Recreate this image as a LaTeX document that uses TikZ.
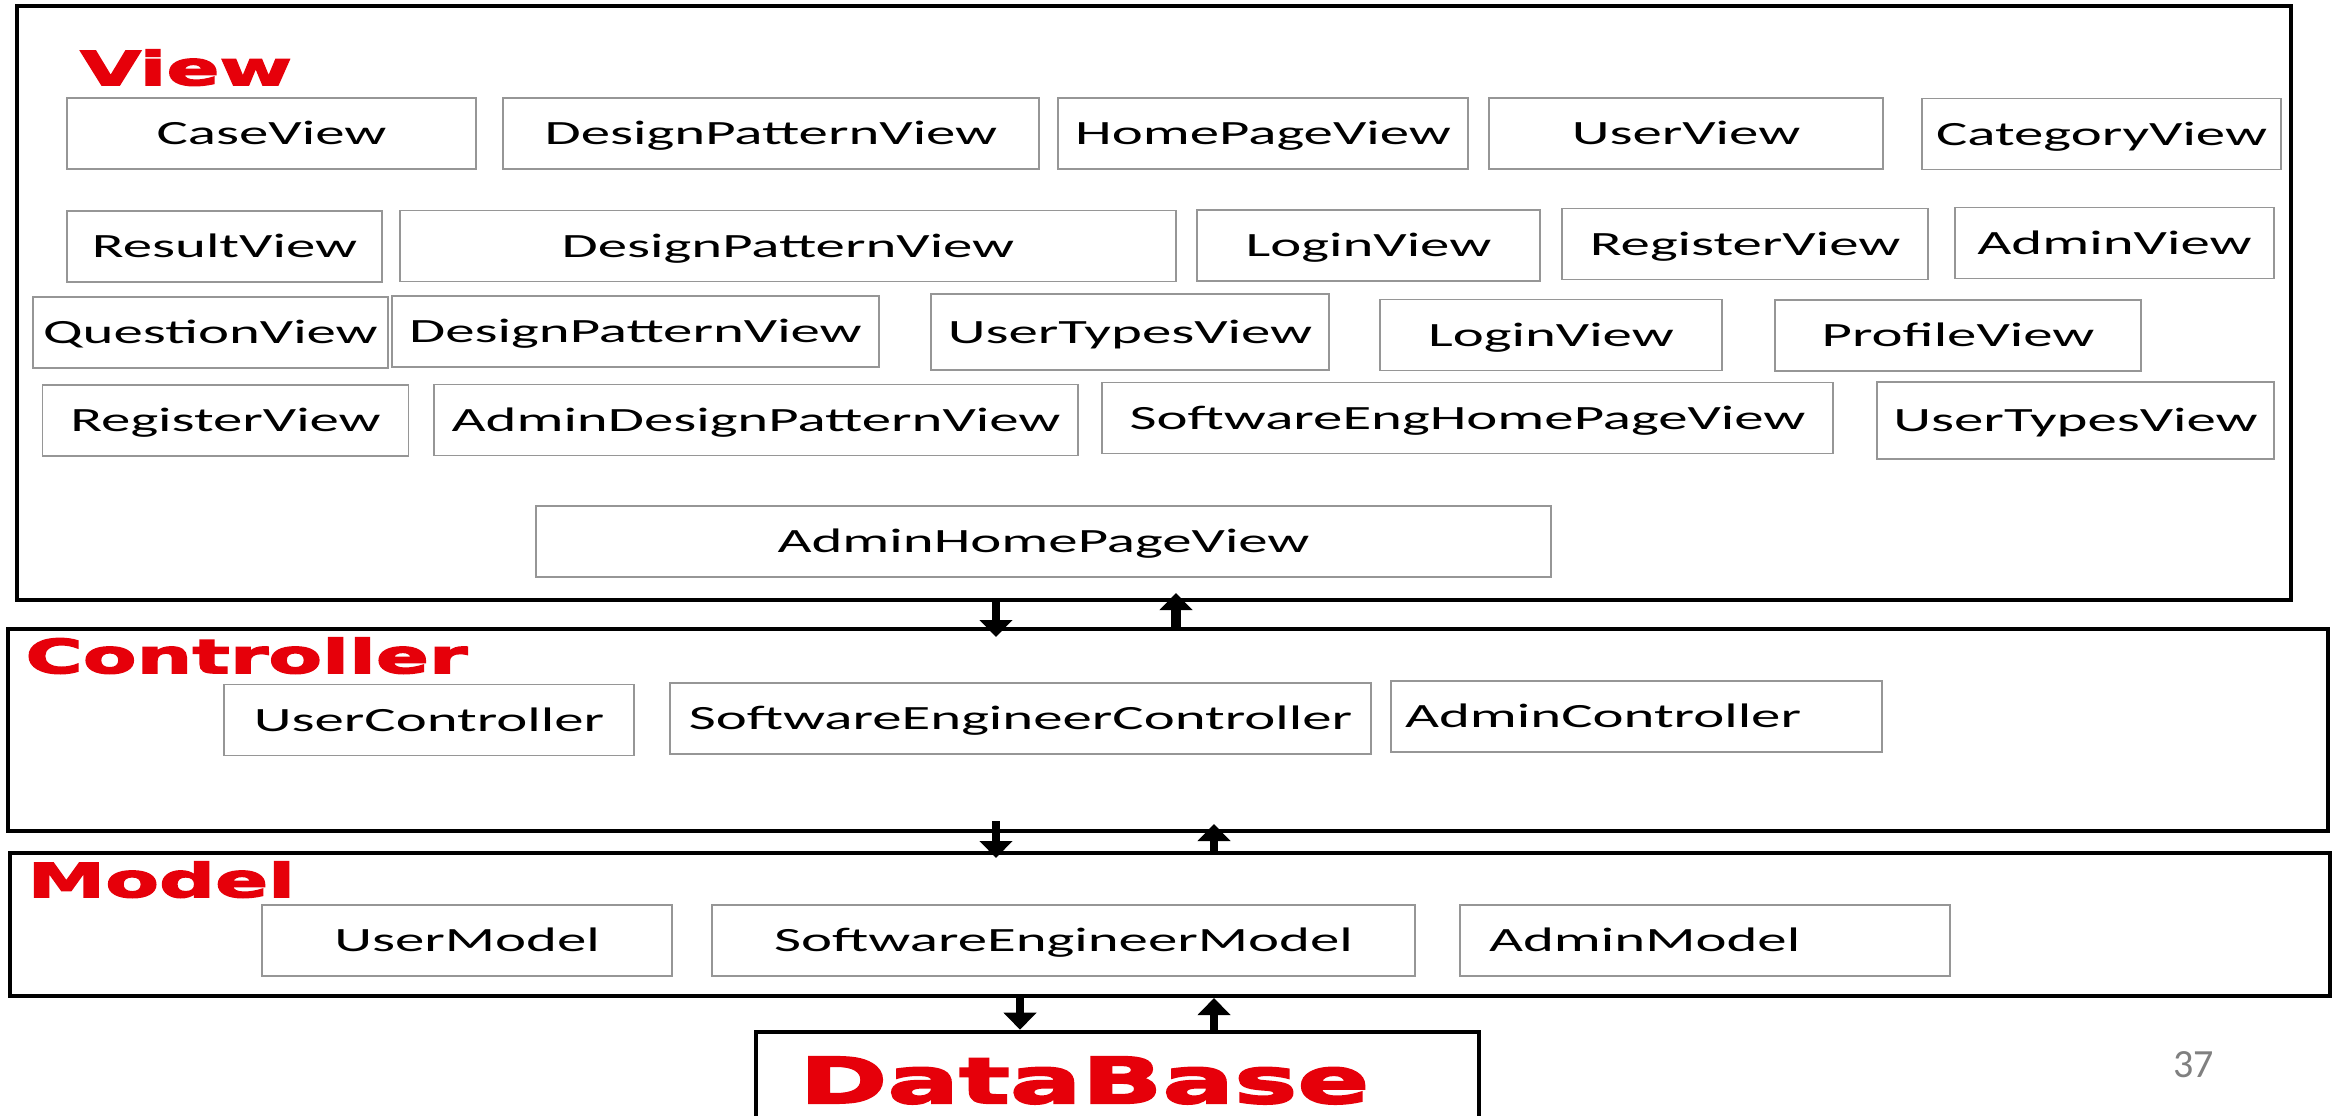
\documentclass[tikz,border=0pt]{standalone}
\usepackage{fontspec}
\usepackage{tikz}
\usetikzlibrary{arrows.meta, positioning}

\newfontfamily\boxfont[FakeStretch=1.73]{Carlito}
\newfontfamily\layerfont[FakeStretch=1.68,BoldFeatures={FakeBold=3.5}]{DejaVu Sans}
\newfontfamily\pagefont{Carlito}
\definecolor{layerred}{RGB}{230,0,10}
\definecolor{boxgray}{RGB}{150,150,150}

\begin{document}
\begin{tikzpicture}[
    x=0.5pt, y=-0.5pt,
    layer/.style={draw, line width=2pt, inner sep=0pt},
    ui/.style={draw=boxgray, line width=0.9pt, minimum height=35.5pt, inner sep=0pt,
        text height=11pt, text depth=0pt, font=\boxfont\fontsize{17}{20}\selectfont},
    layerlbl/.style={text=layerred, inner sep=0pt, anchor=base west,
        font=\layerfont\bfseries\fontsize{23.3}{28}\selectfont},
    flow/.style={line width=4pt, -{Triangle[width=16pt,length=8.5pt]}}
]

    \path[use as bounding box, fill=white] (0,0) rectangle (2343,1115);
    \clip (0,0) rectangle (2343,1115);

    % --- layers ---
    \node [layer, minimum width=1137pt, minimum height=297pt] (viewL) at (1154,303) {};
    \node [layer, minimum width=1160pt, minimum height=101pt] (ctrlL) at (1168,730) {};
    \node [layer, minimum width=1160pt, minimum height=71.5pt] (modelL) at (1170,924.5) {};
    \node [layer, line width=2.3pt, minimum width=361.5pt, minimum height=64pt] (dbL) at (1117.5,1096) {};

    \node [layerlbl] (viewT) at (80,85) {View};
    \node [layerlbl] (ctrlT) at (25,673) {Controller};
    \node [layerlbl] (modelT) at (27,897) {Model};
    \node [layerlbl, font=\layerfont\bfseries\fontsize{31.6}{36}\selectfont] (dbT) at (799,1103) {DataBase};

    % --- view boxes ---
    \node [ui, minimum width=204.5pt] (caseV) at (271.5,133.5) {CaseView};
    \node [ui, minimum width=268pt] (dpVa) at (771,133.5) {DesignPatternView};
    \node [ui, minimum width=205pt] (homeV) at (1263,133.5) {HomePageView};
    \node [ui, minimum width=197pt] (userV) at (1686,133.5) {UserView};
    \node [ui, minimum width=179.5pt] (catV) at (2101.5,134) {CategoryView};

    \node [ui, minimum width=157.5pt] (resultV) at (224.5,246.5) {ResultView};
    \node [ui, minimum width=388pt] (dpVb) at (788,246) {DesignPatternView};
    \node [ui, minimum width=171.5pt] (loginVa) at (1368.5,245.5) {LoginView};
    \node [ui, minimum width=183pt] (regVa) at (1745,244) {RegisterView};
    \node [ui, minimum width=159.5pt] (adminV) at (2114.5,243) {AdminView};

    \node [ui, minimum width=177.5pt] (questV) at (210.5,332.5) {QuestionView};
    \node [ui, minimum width=243.5pt] (dpVc) at (635.5,331.5) {DesignPatternView};
    \node [ui, minimum width=199pt, minimum height=38pt] (utVa) at (1130,332) {UserTypesView};
    \node [ui, minimum width=171pt] (loginVb) at (1551,335) {LoginView};
    \node [ui, minimum width=183pt] (profV) at (1958,335.5) {ProfileView};

    \node [ui, minimum width=183pt] (regVb) at (225.5,420.5) {RegisterView};
    \node [ui, minimum width=322pt] (admDpV) at (756,420) {AdminDesignPatternView};
    \node [ui, minimum width=365.5pt] (seHomeV) at (1467.5,418) {SoftwareEngHomePageView};
    \node [ui, minimum width=198.5pt, minimum height=38.5pt] (utVb) at (2075.5,420.5) {UserTypesView};

    \node [ui, minimum width=507.5pt] (admHomeV) at (1043.5,541.5) {AdminHomePageView};

    % --- controller boxes ---
    \node [ui, minimum width=205pt] (userC) at (429,720) {UserController};
    \node [ui, minimum width=350.5pt] (seC) at (1020.5,718.5) {SoftwareEngineerController};
    \node [ui, inner xsep=7pt, text width=231.5pt, align=left] (adminC) at (1636.5,716.5) {AdminController};

    % --- model boxes ---
    \node [ui, minimum width=205pt] (userM) at (467,940.5) {UserModel};
    \node [ui, minimum width=351.5pt] (seM) at (1063.5,940.5) {SoftwareEngineerModel};
    \node [ui, inner xsep=14.5pt, text width=216pt, align=left] (adminM) at (1705,940.5) {AdminModel};

    \node [font=\pagefont\fontsize{20}{24}\selectfont, text=gray, anchor=base west, inner sep=0pt] (pageNo) at (2173,1077) {37};

    % --- arrows between layers ---
    \coordinate (dnA) at (996,0);
    \coordinate (upA) at (1176,0);
    \coordinate (upB) at (1214,0);
    \coordinate (dnC) at (1020,0);

    \draw [flow, shorten >=-5pt] (viewL.south -| dnA) -- (ctrlL.north -| dnA);
    \draw [flow, line width=5pt, shorten >=-4.5pt] (ctrlL.north -| upA) -- (viewL.south -| upA);

    \draw [flow, shorten <=-6pt, shorten >=-3.5pt] (ctrlL.south -| dnA) -- (modelL.north -| dnA);
    \draw [flow, shorten >=-4.5pt] (modelL.north -| upB) -- (ctrlL.south -| upB);

    \draw [flow] (modelL.south -| dnC) -- (dbL.north -| dnC);
    \draw [flow] (dbL.north -| upB) -- (modelL.south -| upB);

\end{tikzpicture}
\end{document}
